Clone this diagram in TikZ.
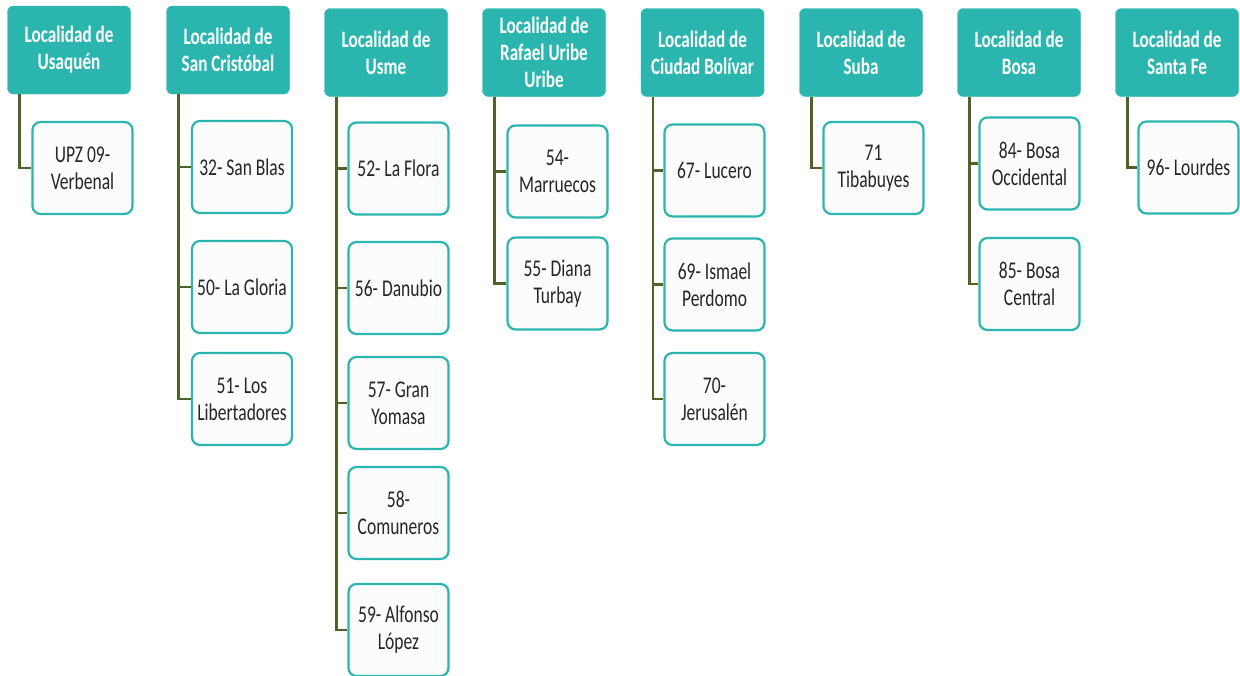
\documentclass[tikz,border=0pt]{standalone}
\usepackage{fontspec}
\setmainfont{Carlito}[FakeStretch=0.73]
\definecolor{teal1}{HTML}{2BB5AF}
\definecolor{olive1}{HTML}{4F6228}
\definecolor{txt}{HTML}{262626}
\definecolor{boxfill}{HTML}{FCFCFC}
\tikzset{
  hdr/.style={fill=teal1, draw=teal1, rounded corners=6pt, minimum width=123pt, minimum height=88pt,
    text=white, font=\fontsize{23.5}{27}\selectfont\bfseries, align=center, inner sep=0pt},
  kid/.style={fill=boxfill, draw=teal1, line width=2.2pt, rounded corners=8pt, minimum width=100pt, minimum height=92pt,
    text=txt, font=\fontsize{24}{27}\selectfont, align=center, inner sep=0pt},
  link/.style={draw=olive1, line width=2.4pt}
}
\begin{document}
\begin{tikzpicture}[x=1pt,y=-1pt]
\useasboundingbox (0,0) rectangle (1240,675);
% headers
\node[hdr] (h1) at (69,50) {Localidad de\\Usaquén};
\node[hdr] (h2) at (228,50) {Localidad de\\San Cristóbal};
\node[hdr] (h3) at (386,52.5) {Localidad de\\Usme};
\node[hdr] (h4) at (544,52.5) {Localidad de\\Rafael Uribe\\Uribe};
\node[hdr] (h5) at (702.5,52.5) {Localidad de\\Ciudad Bolívar};
\node[hdr] (h6) at (861,52.5) {Localidad de\\Suba};
\node[hdr] (h7) at (1019,52.5) {Localidad de\\Bosa};
\node[hdr] (h8) at (1177,52.5) {Localidad de\\Santa Fe};
% children
\node[kid] (c11) at (82.5,168) {UPZ 09-\\Verbenal};
\node[kid] (c21) at (242,167) {32- San Blas};
\node[kid] (c22) at (242,287) {50- La Gloria};
\node[kid] (c23) at (242,399) {51- Los\\Libertadores};
\node[kid] (c31) at (398.5,168.5) {52- La Flora};
\node[kid] (c32) at (398.5,288) {56- Danubio};
\node[kid] (c33) at (398.5,403) {57- Gran\\Yomasa};
\node[kid] (c34) at (398.5,513) {58-\\Comuneros};
\node[kid] (c35) at (398.5,630) {59- Alfonso\\López};
\node[kid] (c41) at (557.5,171.5) {54-\\Marruecos};
\node[kid] (c42) at (557.5,283.5) {55- Diana\\Turbay};
\node[kid] (c51) at (714.5,170.5) {67- Lucero};
\node[kid] (c52) at (714.5,284.5) {69- Ismael\\Perdomo};
\node[kid] (c53) at (714.5,399) {70-\\Jerusalén};
\node[kid] (c61) at (873.5,168) {71\\Tibabuyes};
\node[kid] (c71) at (1029.5,163.5) {84- Bosa\\Occidental};
\node[kid] (c72) at (1029.5,284) {85- Bosa\\Central};
\node[kid] (c81) at (1188.5,167.5) {96- Lourdes};
% connectors
\foreach \h/\kids in {h1/{c11}, h2/{c21,c22,c23}, h3/{c31,c32,c33,c34,c35}, h4/{c41,c42},
                      h5/{c51,c52,c53}, h6/{c61}, h7/{c71,c72}, h8/{c81}} {
  \foreach \k in \kids {
    \draw[link] ([xshift=12pt]\h.south west) |- (\k.west);
  }
}
\end{tikzpicture}
\end{document}
